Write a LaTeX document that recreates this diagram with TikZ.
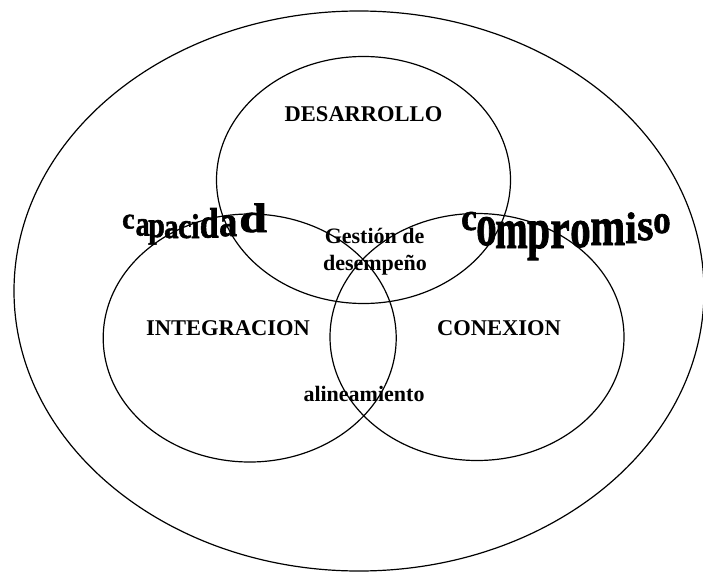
\documentclass[tikz,border=0pt]{standalone}
\usepackage{fontspec}
\setmainfont{Liberation Serif}
\newfontfamily\wafont[BoldFeatures={FakeBold=1.6}]{Liberation Serif}
\usetikzlibrary{shapes.geometric}
\tikzset{
  ring/.style={ellipse,draw=black,line width=1.2pt,inner sep=0pt,fill=none},
  lbl/.style={anchor=base,inner sep=0pt,font=\bfseries\fontsize{22.5}{24}\selectfont},
  lbls/.style={anchor=base,inner sep=0pt,font=\bfseries\fontsize{22}{24}\selectfont},
  wl/.style={anchor=base west,inner sep=0pt}
}
\newcommand\wlet[6]{\node[wl,font=\wafont\bfseries\fontsize{#3}{#3}\selectfont] (#1) at (#4,#5) {\scalebox{1}[#6]{#2}};}
\begin{document}
\begin{tikzpicture}[x=1pt,y=-1pt]
\useasboundingbox (0,0) rectangle (703,572);
\node[ring,minimum width=690pt,minimum height=560pt] (outer) at (359,291) {};
\node[ring,minimum width=294pt,minimum height=247pt] (top) at (363.5,180) {};
\node[ring,minimum width=293pt,minimum height=248pt] (left) at (249.7,338) {};
\node[ring,minimum width=294pt,minimum height=247pt] (right) at (477,337) {};

\node[lbl] (des) at (363.5,121.5) {DESARROLLO};
\node[lbl] (int) at (228,335.7) {INTEGRACION};
\node[lbl] (con) at (499,335.7) {CONEXION};
\node[lbls] (g1) at (374.6,243.3) {Gestión de};
\node[lbls] (g2) at (375,270) {desempeño};
\node[lbls] (ali) at (364,401.7) {alineamiento};

% capacidad
\wlet{ca1}{c}{28}{122}{228.5}{1.05}
\wlet{ca2}{a}{28}{135.5}{235.5}{1.25}
\wlet{ca3}{p}{30}{148}{237}{1.2}
\wlet{ca4}{a}{29}{164}{238}{1.2}
\wlet{ca5}{c}{30}{178}{238}{1.2}
\wlet{ca6}{i}{30}{191}{238}{1.15}
\wlet{ca7}{d}{34}{199.5}{237.5}{1.25}
\wlet{ca8}{a}{36}{219}{236}{1.2}
\wlet{ca9}{d}{50}{239}{232}{0.82}

% compromiso
\wlet{co1}{c}{35}{461}{230}{1.1}
\wlet{co2}{o}{41}{476}{245}{1.45}
\wlet{co3}{m}{39}{495}{248}{1.45}
\wlet{co4}{p}{41}{527}{248}{1.4}
\wlet{co5}{r}{44}{550}{248}{1.3}
\wlet{co6}{o}{41}{570}{247}{1.35}
\wlet{co7}{m}{42}{590}{245}{1.3}
\wlet{co8}{i}{42}{625}{243}{1.05}
\wlet{co9}{s}{42}{637}{240}{1.05}
\wlet{co10}{o}{35}{653}{233}{1.15}
\end{tikzpicture}
\end{document}
